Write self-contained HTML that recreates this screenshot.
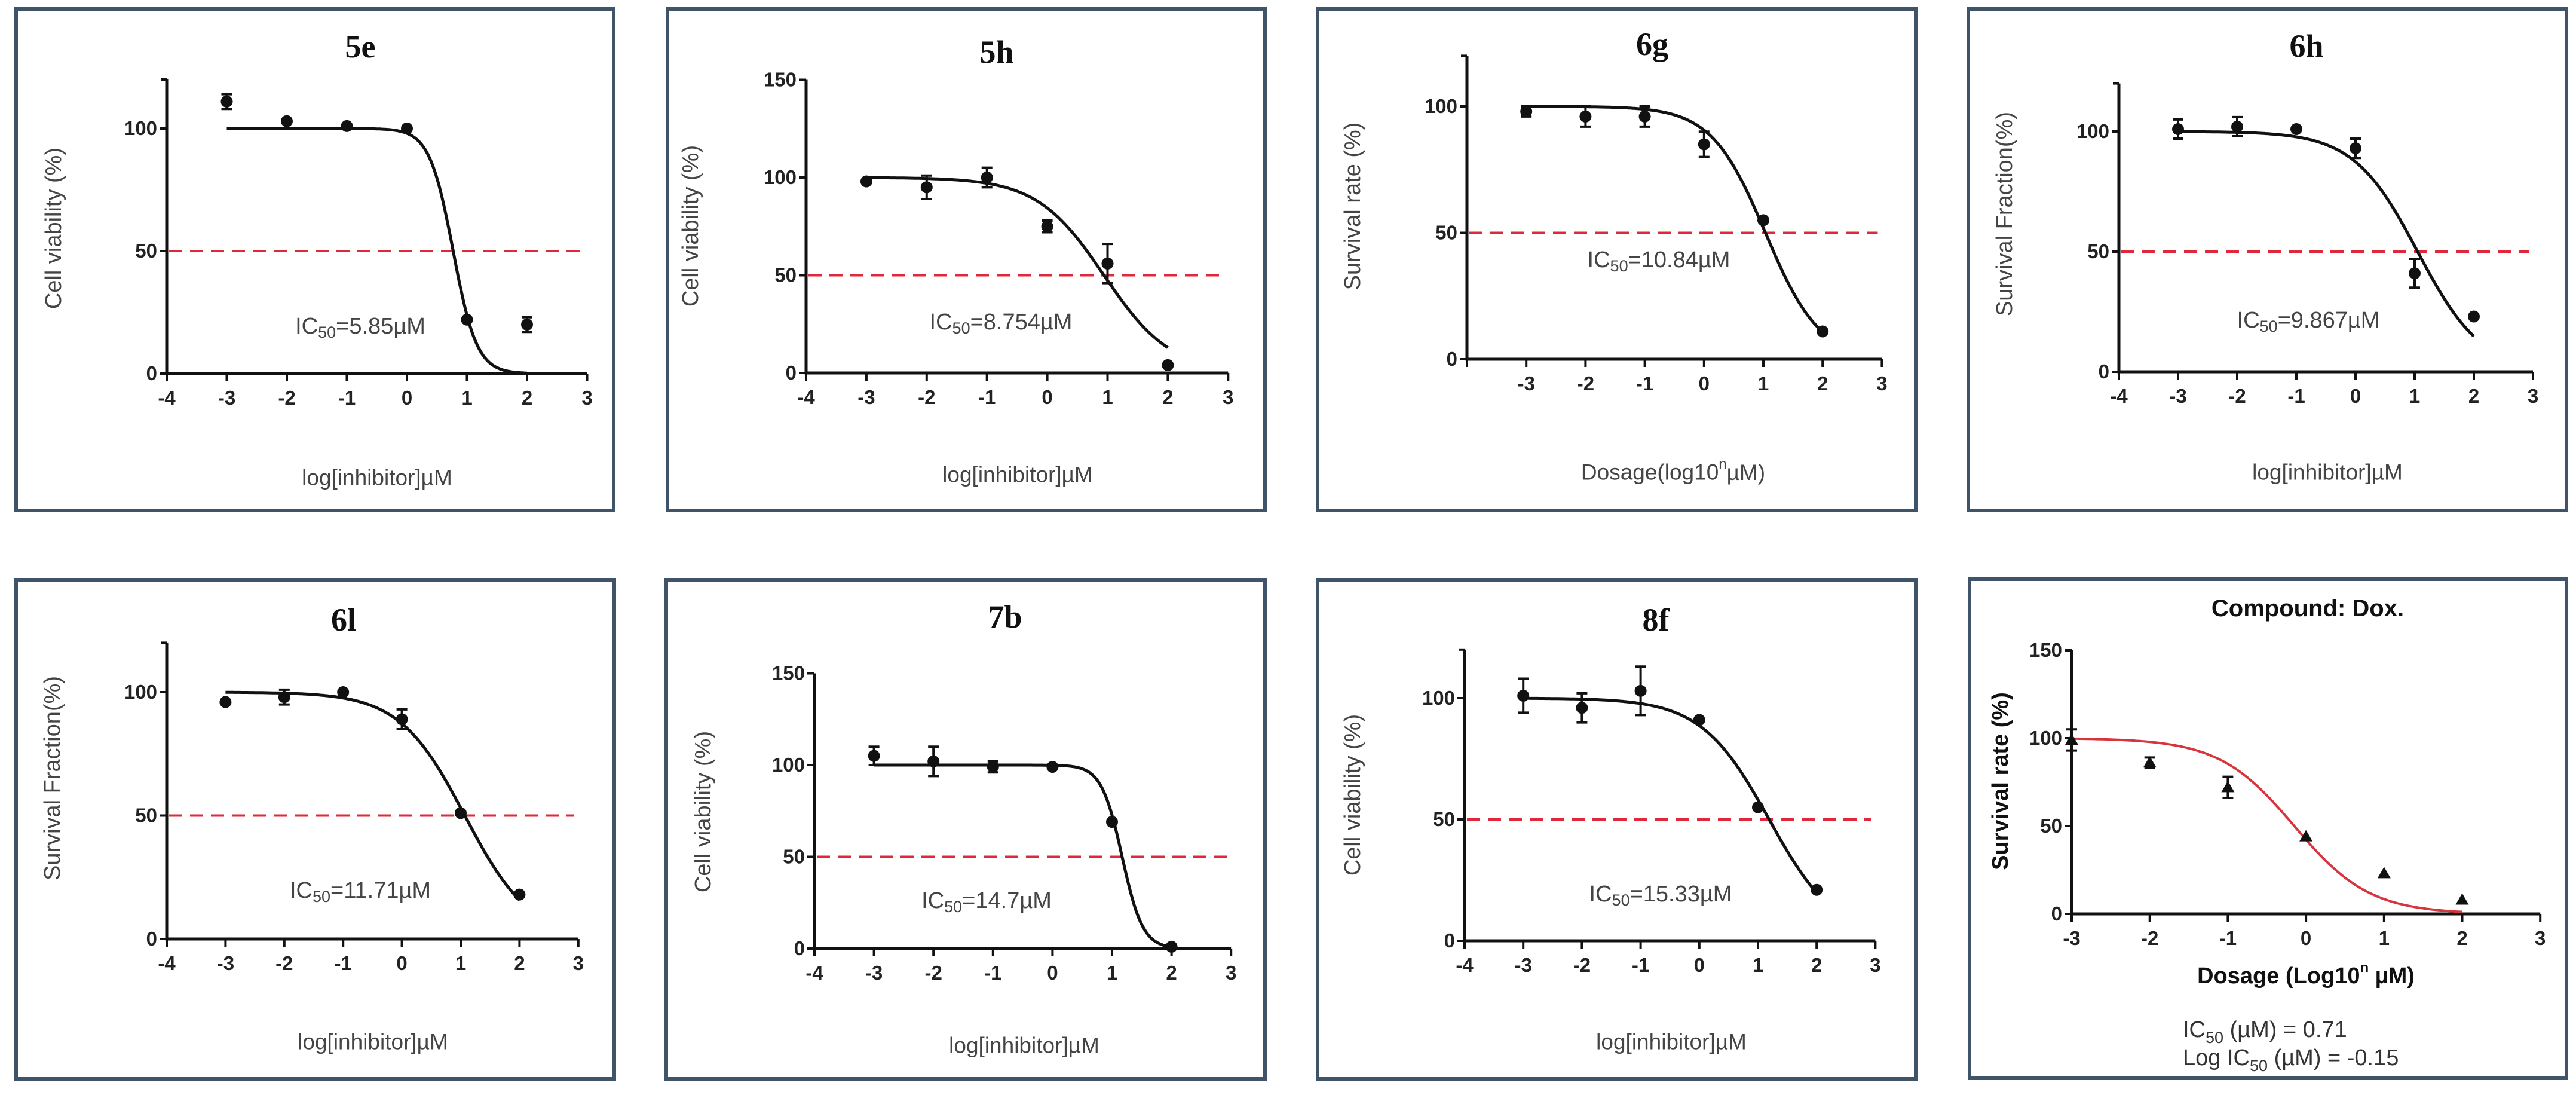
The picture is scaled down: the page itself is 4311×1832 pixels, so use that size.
<!DOCTYPE html>
<html><head><meta charset="utf-8">
<style>
html,body{margin:0;padding:0;background:#fff;}
svg{display:block;}
</style></head>
<body>
<svg id="fig" width="4311" height="1832" viewBox="0 0 4311 1832" xmlns="http://www.w3.org/2000/svg">
<rect x="0" y="0" width="4311" height="1832" fill="#ffffff"/>
</svg>
<script>
// ---- data (log concentration, mean %, error) ----
const xs = [-3,-2,-1,0,1,2];
const y5e = [111,103,101,100,22,20];
const e5e = [3,0,0,0,0,3];
const fit5e = [100,0,0.77,2.2];
const y5h = [98,95,100,75,56,4];
const e5h = [0,6,5,3,10,0];
const fit5h = [100,0,0.94,0.78];
const y6g = [98,96,96,85,55,11];
const e6g = [2,4,4,5,0,0];
const fit6g = [100,0,1.035,0.95];
const y6h = [101,102,101,93,41,23];
const e6h = [4,4,0,4,6,0];
const fit6h = [100,0,1.05,0.8];
const y6l = [96,98,100,89,51,18];
const e6l = [0,3,0,4,0,0];
const fit6l = [100,0,1.07,0.78];
const y7b = [105,102,99,99,69,1];
const e7b = [5,8,3,0,0,0];
const fit7b = [100,0,1.17,2.5];
const y8f = [101,96,103,91,55,21];
const e8f = [7,6,10,0,0,0];
const fit8f = [100,0,1.19,0.75];
const yDox = [99,86,72,44,23,8];
const eDox = [6,3,6,0,0,0];
const fitDox = [100,0,-0.15,0.9];
const ticksX = [-4,-3,-2,-1,0,1,2,3];
const ticks120 = [0,50,100];
const ticks150 = [0,50,100,150];

const NS = "http://www.w3.org/2000/svg";
const svg = document.getElementById('fig');
function mk(tag, attrs, parent){
  const el = document.createElementNS(NS, tag);
  for (const k in attrs) el.setAttribute(k, attrs[k]);
  (parent||svg).appendChild(el);
  return el;
}
function logistic(fit, x){ return fit[1] + (fit[0]-fit[1])/(1+Math.pow(10,fit[3]*(x-fit[2]))); }

const panels = [
 {id:'5e', box:[27,15,1027,854], ax:279, ppx:100.5, oy:625, ppy:4.1, ymax:120, yt:ticks120, xmin:-4, xl:ticksX, title:[603,78], yti:[90,382], ytxt:'Cell viability (%)', ic:[603,546], ictxt:'5.85', xla:[631,799], xtxt:'log[inhibitor]µM', y:y5e, e:e5e, fit:fit5e},
 {id:'5h', box:[1117,15,2117,854], ax:1349, ppx:100.9, oy:624, ppy:3.27, ymax:150, yt:ticks150, xmin:-4, xl:ticksX, title:[1668,87], yti:[1156,378], ytxt:'Cell viability (%)', ic:[1675,539], ictxt:'8.754', xla:[1703,794], xtxt:'log[inhibitor]µM', y:y5h, e:e5h, fit:fit5h},
 {id:'6g', box:[2205,15,3206,854], ax:2455, ppx:99.2, oy:601, ppy:4.23, ymax:120, yt:ticks120, xmin:-4, xl:[-3,-2,-1,0,1,2,3], title:[2765,74], yti:[2264,345], ytxt:'Survival rate (%)', ic:[2776,435], ictxt:'10.84', xla:[2800,790], xtxt:'dosage', y:y6g, e:e6g, fit:fit6g},
 {id:'6h', box:[3294,15,4295,854], ax:3546, ppx:99, oy:622, ppy:4.02, ymax:120, yt:ticks120, xmin:-4, xl:ticksX, title:[3860,77], yti:[3355,358], ytxt:'Survival Fraction(%)', ic:[3863,536], ictxt:'9.867', xla:[3895,790], xtxt:'log[inhibitor]µM', y:y6h, e:e6h, fit:fit6h},
 {id:'6l', box:[27,970,1028,1805], ax:279, ppx:98.4, oy:1571, ppy:4.13, ymax:120, yt:ticks120, xmin:-4, xl:ticksX, title:[575,1037], yti:[88,1302], ytxt:'Survival Fraction(%)', ic:[603,1490], ictxt:'11.71', xla:[624,1743], xtxt:'log[inhibitor]µM', y:y6l, e:e6l, fit:fit6l},
 {id:'7b', box:[1115,970,2117,1805], ax:1363, ppx:99.6, oy:1587, ppy:3.07, ymax:150, yt:ticks150, xmin:-4, xl:ticksX, title:[1682,1032], yti:[1177,1358], ytxt:'Cell viability (%)', ic:[1651,1507], ictxt:'14.7', xla:[1714,1749], xtxt:'log[inhibitor]µM', y:y7b, e:e7b, fit:fit7b},
 {id:'8f', box:[2205,970,3206,1805], ax:2451, ppx:98.2, oy:1574, ppy:4.06, ymax:120, yt:ticks120, xmin:-4, xl:ticksX, title:[2771,1037], yti:[2264,1330], ytxt:'Cell viability (%)', ic:[2779,1496], ictxt:'15.33', xla:[2797,1743], xtxt:'log[inhibitor]µM', y:y8f, e:e8f, fit:fit8f},
 {id:'dox', box:[3296,969,4295,1804], ax:3467, ppx:130.7, oy:1529, ppy:2.94, ymax:150, yt:ticks150, xmin:-3, xl:[-3,-2,-1,0,1,2,3], title:[3862,1018], yti:[3348,1307], ytxt:'Survival rate (%)', ic:null, xla:[3859,1633], xtxt:'doxdosage', y:yDox, e:eDox, fit:fitDox, dox:true}
];

panels.forEach(p => {
  const g = mk('g', {});
  
  
  const X = v => p.ax + (v - p.xmin) * p.ppx;
  const Y = v => p.oy - v * p.ppy;
  const bold = !!p.dox;
  const frame = mk('rect', {x:p.box[0], y:p.box[1], width:p.box[2]-p.box[0], height:p.box[3]-p.box[1], fill:'none', stroke:'#3f5468', 'stroke-width':6}, g);
  
  
  // title
  const t = mk('text', {x:p.title[0], y:p.title[1], 'text-anchor':'middle', 'dominant-baseline':'central', fill:'#111',
    'font-family': p.dox ? '"Liberation Sans", sans-serif' : '"Liberation Serif", serif', 'font-weight':'bold', 'font-size': p.dox ? 40 : 54}, g);
  t.textContent = p.dox ? 'Compound: Dox.' : p.id;
  
  
  // axes
  const xEnd = X(3);
  const axis = mk('path', {d:`M${p.ax},${Y(p.ymax)} L${p.ax},${p.oy} L${xEnd},${p.oy}`, fill:'none', stroke:'#111', 'stroke-width':5}, g);
  
  
  mk('line', {x1:p.ax-10, y1:Y(p.ymax), x2:p.ax, y2:Y(p.ymax), stroke:'#111', 'stroke-width':4}, g);
  p.yt.forEach(v => {
    mk('line', {x1:p.ax-12, y1:Y(v), x2:p.ax, y2:Y(v), stroke:'#111', 'stroke-width':4}, g);
    const tl = mk('text', {x:p.ax-16, y:Y(v)+11, 'text-anchor':'end', 'font-family':'"Liberation Sans", sans-serif', 'font-weight':'bold', 'font-size':33, fill:'#222'}, g);
    tl.textContent = v;
    
    
  });
  const tickVals = p.xl.slice();
  if (p.xmin === -4 && tickVals.indexOf(-4) < 0) tickVals.unshift(-4);
  tickVals.forEach(v => {
    mk('line', {x1:X(v), y1:p.oy, x2:X(v), y2:p.oy+13, stroke:'#111', 'stroke-width':4}, g);
  });
  p.xl.forEach(v => {
    const tl = mk('text', {x:X(v), y:p.oy+52, 'text-anchor':'middle', 'font-family':'"Liberation Sans", sans-serif', 'font-weight':'bold', 'font-size':33, fill:'#222'}, g);
    tl.textContent = v;
    
    
  });
  // y title
  const yt = mk('text', {x:p.yti[0], y:p.yti[1], 'text-anchor':'middle', 'dominant-baseline':'central', transform:`rotate(-90 ${p.yti[0]} ${p.yti[1]})`,
    'font-family':'"Liberation Sans", sans-serif', 'font-size':38, 'font-weight': bold ? 'bold' : 'normal', fill: bold ? '#111' : '#444'}, g);
  yt.textContent = p.ytxt;
  
  
  // x title
  const xt = mk('text', {x:p.xla[0], y:p.xla[1], 'text-anchor':'middle', 'dominant-baseline':'central',
    'font-family':'"Liberation Sans", sans-serif', 'font-size': bold ? 38 : 37, 'font-weight': bold ? 'bold' : 'normal', fill: bold ? '#111' : '#444'}, g);
  if (p.xtxt === 'dosage') {
    xt.appendChild(document.createTextNode('Dosage(log10'));
    const s = mk('tspan', {dy:-14, 'font-size':24}, xt); s.textContent = 'n';
    const r = mk('tspan', {dy:14}, xt); r.textContent = 'µM)';
  } else if (p.xtxt === 'doxdosage') {
    xt.appendChild(document.createTextNode('Dosage (Log10'));
    const s = mk('tspan', {dy:-14, 'font-size':24}, xt); s.textContent = 'n';
    const r = mk('tspan', {dy:14}, xt); r.textContent = ' µM)';
  } else {
    xt.textContent = p.xtxt;
  }
  
  
  // 50% reference line
  if (!p.dox) {
    const rl = mk('line', {x1:p.ax+4, y1:Y(50), x2:X(2.93), y2:Y(50), stroke:'#e0283c', 'stroke-width':4, 'stroke-dasharray':'22 13'}, g);
    
    
  }
  // IC50 label
  if (p.ic) {
    const it = mk('text', {x:p.ic[0], y:p.ic[1], 'text-anchor':'middle', 'dominant-baseline':'central', 'font-family':'"Liberation Sans", sans-serif', 'font-size':38, fill:'#444'}, g);
    it.appendChild(document.createTextNode('IC'));
    const s = mk('tspan', {dy:10, 'font-size':27}, it); s.textContent = '50';
    const r = mk('tspan', {dy:-10}, it); r.textContent = '=' + p.ictxt + 'µM';
    
    
  } else {
    const l1 = mk('text', {x:3653, y:1735, 'font-family':'"Liberation Sans", sans-serif', 'font-size':38, fill:'#333'}, g);
    l1.appendChild(document.createTextNode('IC'));
    const s1 = mk('tspan', {dy:10, 'font-size':27}, l1); s1.textContent = '50';
    const r1 = mk('tspan', {dy:-10}, l1); r1.textContent = ' (µM) = 0.71';
    
    
    const l2 = mk('text', {x:3653, y:1782, 'font-family':'"Liberation Sans", sans-serif', 'font-size':38, fill:'#333'}, g);
    l2.appendChild(document.createTextNode('Log IC'));
    const s2 = mk('tspan', {dy:10, 'font-size':27}, l2); s2.textContent = '50';
    const r2 = mk('tspan', {dy:-10}, l2); r2.textContent = ' (µM) = -0.15';
    
    
  }
  // fitted curve
  let d = '';
  for (let i = 0; i <= 200; i++) {
    const xv = -3 + 5 * i / 200;
    d += (i ? 'L' : 'M') + X(xv).toFixed(1) + ',' + Y(logistic(p.fit, xv)).toFixed(1);
  }
  const c = mk('path', {d:d, fill:'none', stroke: p.dox ? '#d8343e' : '#111', 'stroke-width': p.dox ? 4 : 5}, g);
  
  
  // points
  xs.forEach((xv, i) => {
    const cx = X(xv), cy = Y(p.y[i]);
    if (p.e[i] > 0) {
      const top = Y(p.y[i] + p.e[i]), bot = Y(p.y[i] - p.e[i]);
      const eb = mk('path', {d:`M${cx},${top} L${cx},${bot} M${cx-9},${top} L${cx+9},${top} M${cx-9},${bot} L${cx+9},${bot}`, stroke:'#111', 'stroke-width':4, fill:'none'}, g);
      
      
    }
    let m;
    if (p.dox) {
      m = mk('path', {d:`M${cx},${cy-11} L${cx+11},${cy+8} L${cx-11},${cy+8} Z`, fill:'#111'}, g);
    } else {
      m = mk('circle', {cx:cx, cy:cy, r:10, fill:'#111'}, g);
    }
    
    
  });
});
</script>
</body></html>
